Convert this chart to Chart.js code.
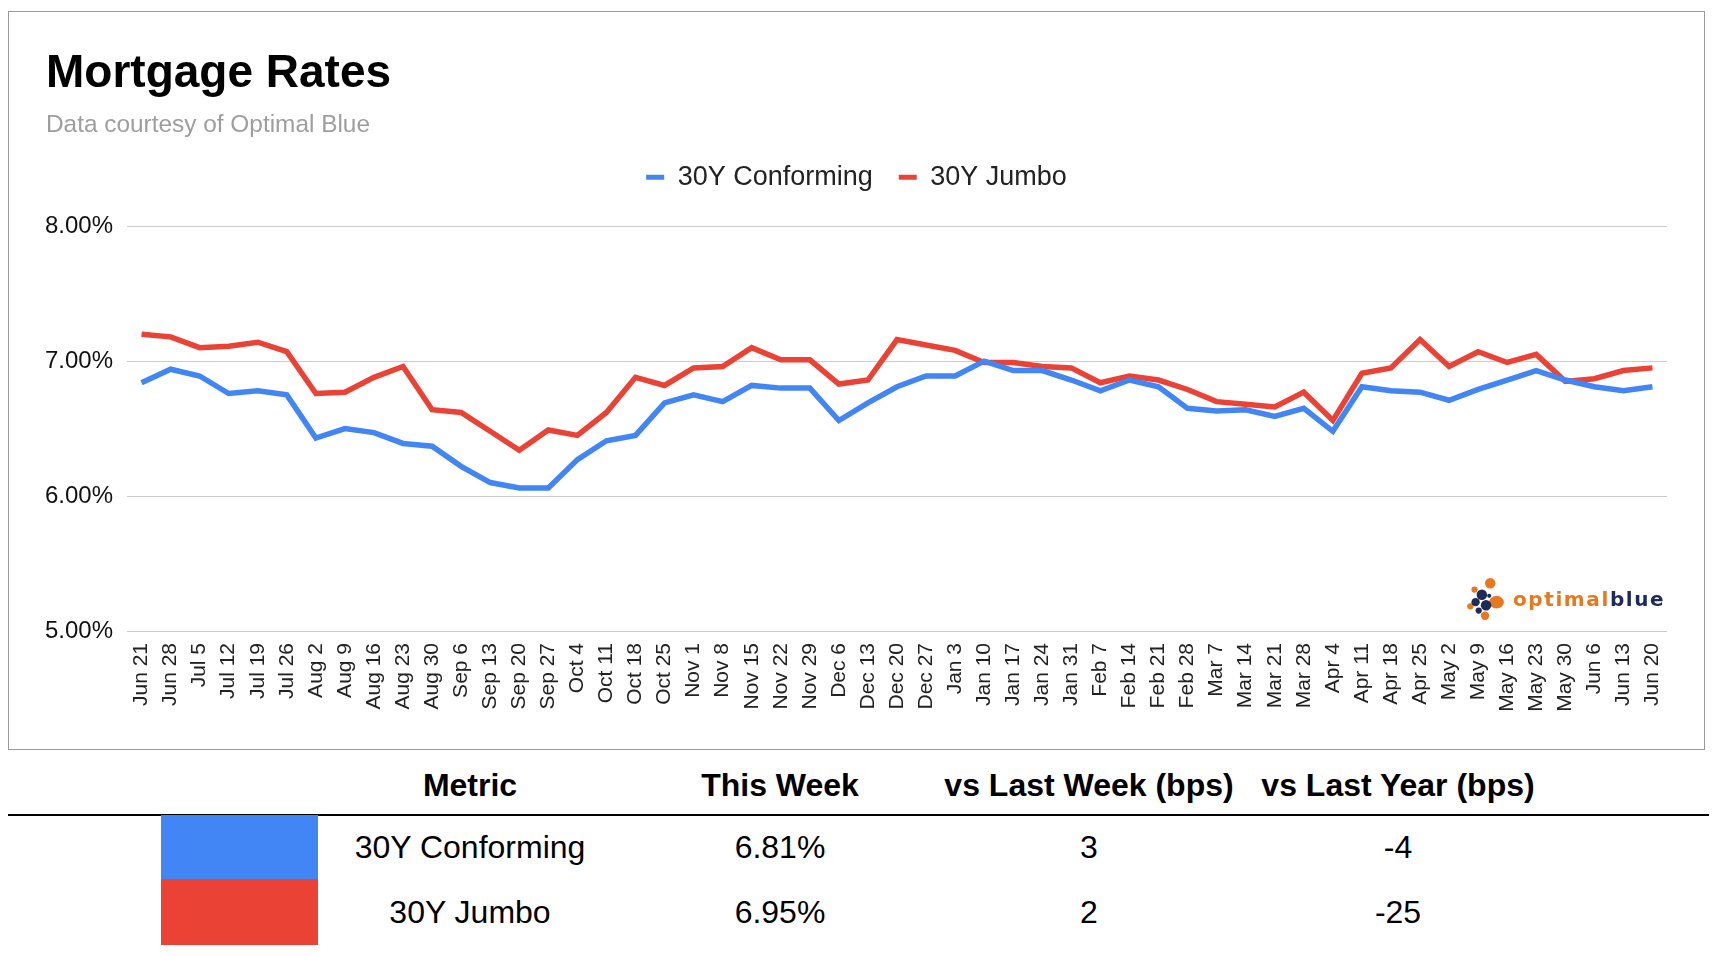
<!DOCTYPE html>
<html>
<head>
<meta charset="utf-8">
<title>Mortgage Rates</title>
<script src="https://cdn.jsdelivr.net/npm/chart.js@4.4.1/dist/chart.umd.min.js"></script>
<style>
  body { margin: 0; background: #fff; width: 1716px; height: 956px; position: relative; overflow: hidden;
         font-family: 'Liberation Sans', Arial, sans-serif; color: #000; }
  #card { position: absolute; left: 8px; top: 11px; width: 1695px; height: 737px; border: 1px solid #9a9a9a; }
  #chart { position: absolute; left: 0; top: 0; }
  #logo { position: absolute; left: 1456px; top: 564px; height: 46px; display: flex; align-items: center; }
  #logo span.txt { font-family: 'DejaVu Sans', sans-serif; font-weight: bold; font-size: 20px; letter-spacing: 1.6px; margin-left: 8px; }
  .cell { position: absolute; width: 420px; text-align: center; white-space: nowrap; }
  .hdr { font-weight: bold; font-size: 32px; top: 765px; height: 40px; line-height: 40px; }
  .row { font-size: 32px; }
  #rule { position: absolute; left: 8px; top: 814px; width: 1701px; height: 2px; background: #000; }
  .swatch { position: absolute; left: 161px; width: 157px; }
</style>
</head>
<body>
<div id="card">
  <canvas id="chart" width="1695" height="737"></canvas>
  <div id="logo">
    <svg width="40" height="44" viewBox="0 0 38 42">
      <circle cx="24" cy="6" r="5" fill="#e8781e"/>
      <circle cx="9" cy="12" r="3" fill="#e8781e"/>
      <ellipse cx="30" cy="24" rx="7" ry="6" fill="#e8781e"/>
      <circle cx="19" cy="37" r="4" fill="#e8781e"/>
      <circle cx="5" cy="28" r="3" fill="#e8781e"/>
      <circle cx="16" cy="17" r="5" fill="#1d2b5b"/>
      <circle cx="10" cy="24" r="4" fill="#1d2b5b"/>
      <circle cx="20" cy="27" r="5" fill="#1d2b5b"/>
      <circle cx="13" cy="32" r="3" fill="#1d2b5b"/>
      <circle cx="23" cy="18" r="2" fill="#1d2b5b"/>
    </svg>
    <span class="txt"><span style="color:#e8781e">optimal</span><span style="color:#1d2b5b">blue</span></span>
  </div>
</div>
<div id="table"></div>

<script>
// weekly dates (Jun 21 -> Jun 20)
const weeks = ['Jun 21','Jun 28','Jul 5','Jul 12','Jul 19','Jul 26','Aug 2','Aug 9','Aug 16','Aug 23','Aug 30',
  'Sep 6','Sep 13','Sep 20','Sep 27','Oct 4','Oct 11','Oct 18','Oct 25','Nov 1','Nov 8','Nov 15','Nov 22','Nov 29',
  'Dec 6','Dec 13','Dec 20','Dec 27','Jan 3','Jan 10','Jan 17','Jan 24','Jan 31','Feb 7','Feb 14','Feb 21','Feb 28',
  'Mar 7','Mar 14','Mar 21','Mar 28','Apr 4','Apr 11','Apr 18','Apr 25','May 2','May 9','May 16','May 23','May 30',
  'Jun 6','Jun 13','Jun 20'];

const conforming = [6.84, 6.94, 6.89, 6.76, 6.78, 6.75, 6.43, 6.50, 6.47, 6.39, 6.37, 6.22, 6.10, 6.06, 6.06, 6.27,
  6.41, 6.45, 6.69, 6.75, 6.70, 6.82, 6.80, 6.80, 6.56, 6.69, 6.81, 6.89, 6.89, 7.00, 6.93, 6.93, 6.86, 6.78, 6.86,
  6.81, 6.65, 6.63, 6.64, 6.59, 6.65, 6.48, 6.81, 6.78, 6.77, 6.71, 6.79, 6.86, 6.93, 6.86, 6.81, 6.78, 6.81];

const jumbo = [7.20, 7.18, 7.10, 7.11, 7.14, 7.07, 6.76, 6.77, 6.88, 6.96, 6.64, 6.62, 6.48, 6.34, 6.49, 6.45,
  6.62, 6.88, 6.82, 6.95, 6.96, 7.10, 7.01, 7.01, 6.83, 6.86, 7.16, 7.12, 7.08, 6.99, 6.99, 6.96, 6.95, 6.84, 6.89,
  6.86, 6.79, 6.70, 6.68, 6.66, 6.77, 6.56, 6.91, 6.95, 7.16, 6.96, 7.07, 6.99, 7.05, 6.85, 6.87, 6.93, 6.95];

const yTicks = [5, 6, 7, 8];

// summary table
const tableHeaders = ['Metric', 'This Week', 'vs Last Week (bps)', 'vs Last Year (bps)'];
const metrics = ['30Y Conforming', '30Y Jumbo'];
const thisWeek = ['6.81%', '6.95%'];
const vsLastWeek = ['3', '2'];
const vsLastYear = ['-4', '-25'];

const BLUE = '#4285f4';
const RED = '#ea4335';

Chart.defaults.font.family = "'Liberation Sans', Arial, sans-serif";
Chart.defaults.color = '#222';

// push the plot area down below the legend
const legendGap = {
  id: 'legendGap',
  beforeInit(chart) {
    const fit = chart.legend.fit;
    chart.legend.fit = function () {
      fit.bind(chart.legend)();
      this.height += 25.5;
    };
  }
};

new Chart(document.getElementById('chart'), {
  type: 'line',
  data: {
    labels: weeks,
    datasets: [
      { label: '30Y Conforming', data: conforming, borderColor: BLUE, backgroundColor: BLUE,
        borderWidth: 5.5, pointRadius: 0, tension: 0 },
      { label: '30Y Jumbo', data: jumbo, borderColor: RED, backgroundColor: RED,
        borderWidth: 5.5, pointRadius: 0, tension: 0 }
    ]
  },
  options: {
    responsive: false,
    animation: false,
    layout: { padding: { left: 37, right: 37, top: 0, bottom: 0 } },
    plugins: {
      title: {
        display: true, text: 'Mortgage Rates', align: 'start', color: '#000',
        font: { size: 46, weight: 'bold' }, padding: { top: 34.5, bottom: 0 }
      },
      subtitle: {
        display: true, text: 'Data courtesy of Optimal Blue', align: 'start', color: '#9e9e9e',
        font: { size: 24.4, lineHeight: 1 }, padding: { top: 11.6, bottom: 0 }
      },
      legend: {
        position: 'top',
        labels: {
          boxWidth: 18, boxHeight: 5, padding: 26, color: '#222',
          font: { size: 27 },
          generateLabels: chart => Chart.defaults.plugins.legend.labels.generateLabels(chart)
            .map(l => ({ ...l, lineWidth: 0 }))
        }
      },
      tooltip: { enabled: false }
    },
    scales: {
      x: {
        offset: true,
        grid: { display: false, drawTicks: false },
        border: { display: false },
        ticks: { autoSkip: false, minRotation: 90, maxRotation: 90, padding: 12, font: { size: 21 } },
        afterFit: s => { s.height = 118; }
      },
      y: {
        min: 5, max: 8,
        afterBuildTicks: s => { s.ticks = yTicks.map(v => ({ value: v })); },
        grid: { color: '#cccccc', lineWidth: 1, drawTicks: false },
        border: { display: false },
        ticks: { padding: 14, font: { size: 24 }, color: '#111', callback: v => v.toFixed(2) + '%' },
        afterFit: s => { s.width = 81; }
      }
    }
  },
  plugins: [legendGap]
});

// build the summary table under the chart
const table = document.getElementById('table');
const colCenters = [470, 780, 1089, 1398];
const rowTops = [815, 879];
const rowHeights = [64, 66];
const rowColors = [BLUE, RED];

tableHeaders.forEach((h, c) => {
  const d = document.createElement('div');
  d.className = 'cell hdr';
  d.style.left = (colCenters[c] - 210) + 'px';
  d.textContent = h;
  table.appendChild(d);
});

const rule = document.createElement('div');
rule.id = 'rule';
table.appendChild(rule);

metrics.forEach((m, r) => {
  const sw = document.createElement('div');
  sw.className = 'swatch';
  sw.style.top = rowTops[r] + 'px';
  sw.style.height = rowHeights[r] + 'px';
  sw.style.background = rowColors[r];
  table.appendChild(sw);
  [m, thisWeek[r], vsLastWeek[r], vsLastYear[r]].forEach((txt, c) => {
    const d = document.createElement('div');
    d.className = 'cell row';
    d.style.left = (colCenters[c] - 210) + 'px';
    d.style.top = rowTops[r] + 'px';
    d.style.height = rowHeights[r] + 'px';
    d.style.lineHeight = rowHeights[r] + 'px';
    d.textContent = txt;
    table.appendChild(d);
  });
});
</script>
</body>
</html>
